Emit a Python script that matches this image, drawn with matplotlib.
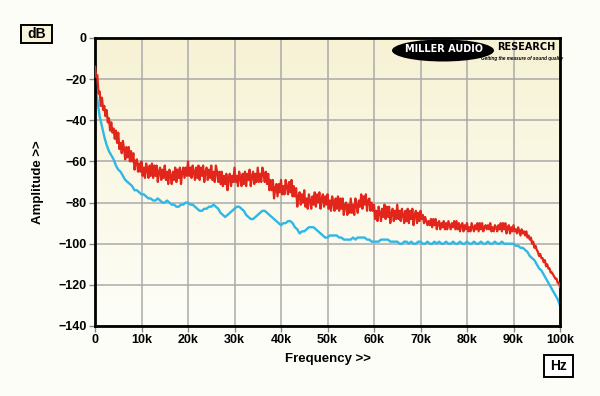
import numpy as np
import matplotlib
matplotlib.use('Agg')
import matplotlib.pyplot as plt
from matplotlib.patches import Ellipse, Rectangle

# частоты, кГц
red_khz = np.arange(0, 100.25, 0.25)
cyan_khz = np.arange(0, 100.5, 0.5)

# красная кривая, дБ (шаг 0.25 кГц)
red_db = [
    -14, -19, -18, -27, -26, -33, -29, -35, -33, -38,
    -35, -41, -39, -45, -41, -46, -44, -49, -45, -51,
    -46, -54, -51, -56, -50, -54, -59, -53, -58, -53,
    -60, -55, -60, -56, -64, -60, -59, -65, -61, -65,
    -60, -67, -63, -68, -61, -64, -68, -62, -67, -61,
    -68, -62, -67, -62, -70, -65, -63, -69, -64, -68,
    -62, -69, -65, -71, -64, -67, -71, -65, -69, -63,
    -70, -64, -68, -63, -71, -65, -63, -68, -63, -67,
    -60, -67, -63, -68, -62, -65, -69, -63, -68, -62,
    -69, -63, -67, -62, -70, -65, -63, -69, -64, -68,
    -62, -69, -65, -70, -62, -65, -70, -65, -71, -65,
    -72, -67, -71, -66, -74, -68, -66, -72, -67, -70,
    -63, -70, -67, -72, -65, -68, -72, -66, -71, -65,
    -72, -66, -69, -64, -72, -67, -65, -71, -66, -70,
    -63, -70, -66, -70, -63, -66, -70, -65, -71, -66,
    -74, -69, -74, -69, -78, -73, -71, -77, -71, -75,
    -69, -76, -72, -76, -69, -72, -76, -70, -75, -69,
    -77, -72, -77, -73, -82, -77, -75, -81, -76, -80,
    -74, -82, -78, -83, -76, -79, -83, -77, -81, -75,
    -82, -76, -80, -75, -83, -78, -76, -82, -77, -81,
    -76, -83, -79, -84, -77, -80, -84, -78, -83, -77,
    -84, -78, -83, -78, -86, -81, -80, -86, -81, -85,
    -78, -85, -81, -86, -78, -81, -85, -79, -82, -76,
    -83, -77, -81, -76, -84, -79, -78, -84, -80, -84,
    -81, -88, -84, -89, -82, -85, -89, -83, -87, -81,
    -88, -82, -87, -82, -90, -85, -83, -89, -84, -88,
    -81, -88, -84, -89, -83, -86, -90, -84, -89, -83,
    -90, -84, -88, -83, -91, -86, -84, -90, -85, -89,
    -84, -88, -86, -90, -87, -89, -91, -89, -91, -88,
    -92, -88, -91, -88, -93, -90, -89, -93, -90, -92,
    -89, -93, -90, -93, -89, -91, -93, -90, -92, -89,
    -93, -89, -93, -90, -94, -91, -90, -94, -91, -93,
    -90, -94, -92, -94, -90, -92, -94, -91, -93, -90,
    -94, -90, -93, -90, -94, -92, -91, -93, -91, -93,
    -90, -94, -92, -94, -91, -92, -94, -91, -93, -90,
    -94, -90, -93, -90, -95, -92, -91, -95, -92, -94,
    -91, -94, -93, -95, -92, -94, -96, -93, -95, -94,
    -96, -94, -97, -96, -98, -97, -100, -99, -102, -101,
    -103, -104, -106, -105, -107, -107, -109, -108, -111, -110,
    -112, -112, -114, -114, -115, -116, -117, -117, -119, -119,
    -121,
]

# голубая кривая, дБ (шаг 0.5 кГц)
cyan_db = [
    -22, -30, -38, -43, -48, -52, -55, -57, -59, -62,
    -64, -65, -67, -69, -70, -71, -72, -74, -74, -75,
    -76, -76, -77, -78, -78, -79, -79, -78, -79, -80,
    -80, -79, -80, -81, -81, -82, -82, -81, -81, -80,
    -80, -81, -81, -82, -83, -84, -84, -83, -83, -82,
    -82, -81, -82, -83, -85, -86, -87, -86, -85, -84,
    -83, -82, -82, -83, -84, -86, -87, -88, -88, -87,
    -86, -85, -84, -84, -85, -86, -87, -88, -89, -90,
    -91, -90, -90, -89, -89, -90, -92, -93, -95, -94,
    -94, -93, -92, -92, -92, -93, -94, -95, -96, -97,
    -97, -96, -96, -96, -96, -97, -97, -98, -98, -98,
    -98, -97, -98, -97, -97, -97, -97, -98, -98, -99,
    -99, -99, -99, -98, -98, -98, -98, -99, -99, -99,
    -99, -100, -100, -99, -99, -100, -99, -100, -100, -99,
    -99, -100, -100, -99, -100, -100, -99, -100, -99, -100,
    -100, -99, -100, -100, -99, -100, -100, -99, -100, -100,
    -99, -100, -100, -99, -100, -100, -99, -100, -100, -99,
    -100, -100, -99, -100, -100, -99, -100, -100, -100, -100,
    -100, -101, -101, -102, -102, -103, -104, -106, -107, -108,
    -110, -112, -113, -115, -117, -119, -121, -123, -125, -127,
    -130,
]

x_ticks = [0, 10, 20, 30, 40, 50, 60, 70, 80, 90, 100]
x_labels = ['0', '10k', '20k', '30k', '40k', '50k', '60k', '70k', '80k', '90k', '100k']
y_ticks = [0, -20, -40, -60, -80, -100, -120, -140]

plt.rcParams['font.family'] = ['Liberation Sans', 'DejaVu Sans']

W, H = 600, 396
fig = plt.figure(figsize=(W / 100, H / 100), dpi=100, facecolor='#fdfdf8')
ax = fig.add_axes([95 / W, 1 - 326 / H, 465 / W, 288 / H])

# фон с градиентом
grad = np.linspace(0, 1, 256).reshape(-1, 1, 1)
top = np.array([247, 242, 212]) / 255
bot = np.array([254, 254, 249]) / 255
img = top + (bot - top) * grad
ax.imshow(img, extent=[0, 100, -140, 0], aspect='auto', zorder=0)

ax.set_xlim(0, 100)
ax.set_ylim(-140, 0)
ax.set_xticks(x_ticks)
ax.set_xticklabels(x_labels)
ax.set_yticks(y_ticks)
ax.grid(color='#aaaaaa', linewidth=1.1, zorder=0.5)

ax.plot(cyan_khz, cyan_db, color='#2fb7e6', linewidth=1.7, zorder=2)
ax.plot(red_khz, red_db, color='#e3261b', linewidth=1.6, zorder=3)

for s in ax.spines.values():
    s.set_linewidth(2)
    s.set_color('black')
ax.tick_params(axis='both', direction='out', length=4, width=1, color='#888888',
               labelsize=9, pad=2)
for lab in ax.get_xticklabels() + ax.get_yticklabels():
    lab.set_fontweight('bold')

ax.set_xlabel('Frequency >>', fontsize=9.5, fontweight='bold', labelpad=5)
ax.set_ylabel('Amplitude >>', fontsize=9.5, fontweight='bold', labelpad=10)

# надписи поверх графика в пикселях
ov = fig.add_axes([0, 0, 1, 1], facecolor='none')
ov.set_xlim(0, W)
ov.set_ylim(H, 0)
ov.axis('off')

ov.add_patch(Rectangle((21, 25), 31, 18, facecolor='#f8f5dc', edgecolor='black', linewidth=1.4))
ov.text(36.5, 34.5, 'dB', ha='center', va='center', fontsize=10, fontweight='bold')
ov.add_patch(Rectangle((544, 355), 29, 22, facecolor='white', edgecolor='black', linewidth=1.4))
ov.text(558.5, 366.5, 'Hz', ha='center', va='center', fontsize=10, fontweight='bold')

# логотип
ov.add_patch(Ellipse((443, 50.5), 102, 22, facecolor='black', edgecolor='none'))
ov.text(444, 49.5, 'MILLER AUDIO', ha='center', va='center', fontsize=7,
        fontweight='bold', family='DejaVu Sans', color='white')
ov.text(526, 47, 'RESEARCH', ha='center', va='center', fontsize=7,
        fontweight='bold', family='DejaVu Sans', color='black')
ov.text(522, 58.5, 'Getting the measure of sound quality', ha='center', va='center',
        fontsize=3.3, fontweight='bold', style='italic', color='black')

fig.savefig('out.png', dpi=100, facecolor=fig.get_facecolor())
